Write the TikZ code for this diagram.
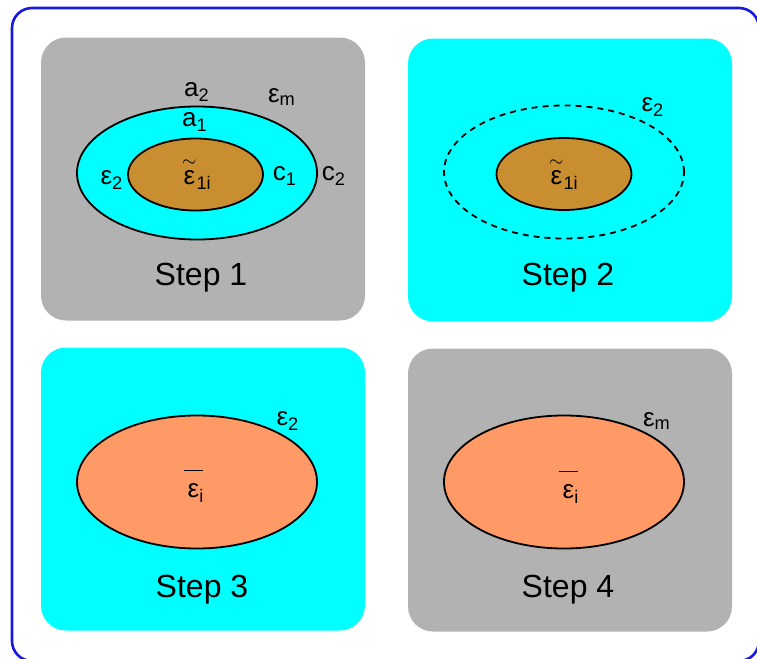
\documentclass[tikz,border=0pt]{standalone}
\usepackage{fontspec}
\setmainfont{Liberation Sans}
\usetikzlibrary{shapes.geometric}
\definecolor{panelgray}{RGB}{178,178,178}
\definecolor{cyanfill}{RGB}{0,255,255}
\definecolor{brownfill}{RGB}{200,142,48}
\definecolor{salmonfill}{RGB}{255,153,102}
\definecolor{frameblue}{RGB}{25,25,220}
\newcommand{\eps}{ε}
\newcommand{\epstilde}{$\stackrel{\sim}{\mbox{ε}}$\textsubscript{1i}}
\newcommand{\epsbar}{$\overline{\mbox{\kern2pt ε\kern2pt}\rule{0pt}{1.8ex}}$\kern-2pt\textsubscript{i}}

\begin{document}
\begin{tikzpicture}[x=0.5pt, y=-0.5pt,
  panel/.style = {rounded corners=12.5pt, inner sep=0pt, minimum width=162pt, minimum height=141.5pt},
  big/.style = {ellipse, draw, line width=0.9pt, inner sep=0pt, minimum width=120pt, minimum height=66.5pt},
  small/.style = {ellipse, draw, line width=0.9pt, fill=brownfill, inner sep=0pt, minimum width=67.5pt, minimum height=36pt},
  lab/.style = {font=\fontsize{13}{15}\selectfont, inner sep=0pt},
  steplab/.style = {font=\fontsize{16}{19}\selectfont, inner sep=0pt}]
  \useasboundingbox (0,0) rectangle (757,659);
  \draw[frameblue, line width=1.3pt, rounded corners=10pt] (12,8) rectangle (759,661);

  % panels
  \node[panel, fill=panelgray] (p1) at (203,179) {};
  \node[panel, fill=cyanfill] (p2) at (570,180) {};
  \node[panel, fill=cyanfill] (p3) at (203,489) {};
  \node[panel, fill=panelgray] (p4) at (570,490) {};

  % step 1
  \node[big, fill=cyanfill] (e1) at (197,173) {};
  \node[small] (i1) at (195.5,174.5) {};
  \node[lab] (t1) at (197,174) {\epstilde};
  \node[lab] (a2) at (197,92) {a\textsubscript{2}};
  \node[lab] (em1) at (282,97) {\eps\textsubscript{m}};
  \node[lab] (a1) at (195,122) {a\textsubscript{1}};
  \node[lab] (ea1) at (112,180) {\eps\textsubscript{2}};
  \node[lab] (c1) at (285,176) {c\textsubscript{1}};
  \node[lab] (c2) at (334,176) {c\textsubscript{2}};
  \node[steplab] (s1) at (201,278) {Step 1};

  % step 2
  \node[big, dash pattern=on 3pt off 2.5pt] (e2) at (564,172) {};
  \node[small] (i2) at (564,174) {};
  \node[lab] (t2) at (564,174) {\epstilde};
  \node[lab] (ea2) at (653,107) {\eps\textsubscript{2}};
  \node[steplab] (s2) at (568,278) {Step 2};

  % step 3
  \node[big, fill=salmonfill] (e3) at (197,482) {};
  \node[lab] (b3) at (194,486) {\epsbar};
  \node[lab] (ea3) at (288,421) {\eps\textsubscript{2}};
  \node[steplab] (s3) at (202,590) {Step 3};

  % step 4
  \node[big, fill=salmonfill] (e4) at (564,482) {};
  \node[lab] (b4) at (569,487) {\epsbar};
  \node[lab] (em4) at (657,421) {\eps\textsubscript{m}};
  \node[steplab] (s4) at (568,590) {Step 4};
\end{tikzpicture}
\end{document}
